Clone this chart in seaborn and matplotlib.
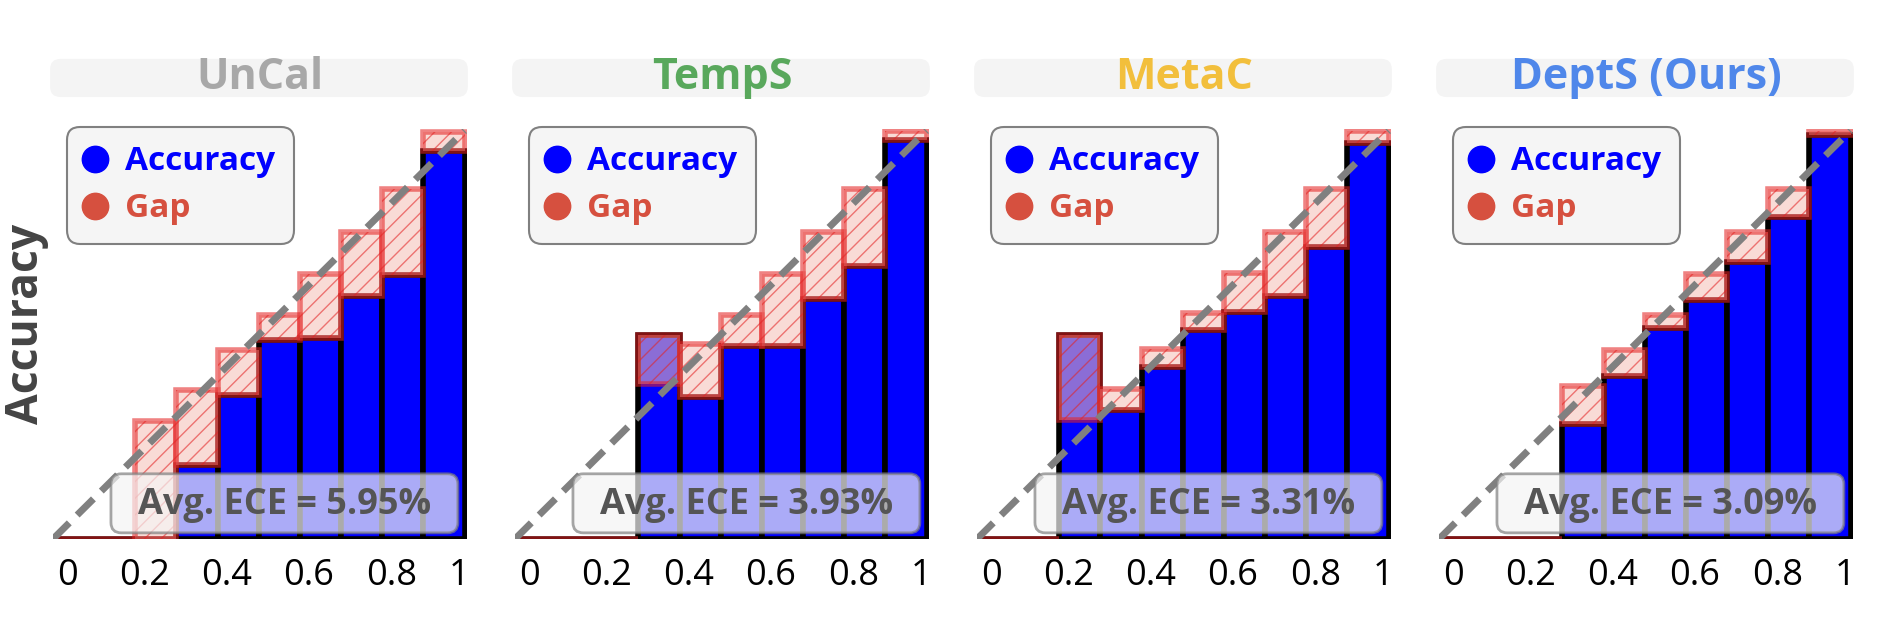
# reliability diagrams for four calibration methods

import pandas as pd
import seaborn as sns
import matplotlib.pyplot as plt
from matplotlib.lines import Line2D
from matplotlib.patches import FancyBboxPatch
from matplotlib.transforms import ScaledTranslation

# data
bin_mid = [0.05, 0.15, 0.25, 0.35, 0.45, 0.55, 0.65, 0.75, 0.85, 0.95]
diag = [0.0, 1.0]
tick_vals = [0.0, 0.2, 0.4, 0.6, 0.8, 1.0]
tick_labels = ['0', '0.2', '0.4', '0.6', '0.8', '1']

methods = ['UnCal', 'TempS', 'MetaC', 'DeptS (Ours)']
method_colors = ['#a8a8a8', '#59a85c', '#f2bf3c', '#4f87ea']
ece_text = ['Avg. ECE = 5.95%', 'Avg. ECE = 3.93%', 'Avg. ECE = 3.31%', 'Avg. ECE = 3.09%']

acc_uncal = [0, 0, 0, 0.182, 0.352, 0.488, 0.493, 0.596, 0.647, 0.951]
conf_uncal = [0, 0, 0.289, 0.366, 0.463, 0.549, 0.650, 0.752, 0.856, 0.996]

acc_temps = [0, 0, 0, 0.499, 0.348, 0.472, 0.472, 0.588, 0.668, 0.978]
conf_temps = [0, 0, 0, 0.380, 0.478, 0.549, 0.650, 0.751, 0.856, 1.0]

acc_metac = [0, 0, 0.499, 0.316, 0.421, 0.513, 0.557, 0.595, 0.716, 0.969]
conf_metac = [0, 0, 0.292, 0.368, 0.465, 0.554, 0.652, 0.753, 0.858, 0.998]

acc_depts = [0, 0, 0, 0.282, 0.398, 0.517, 0.586, 0.679, 0.789, 0.989]
conf_depts = [0, 0, 0, 0.374, 0.462, 0.549, 0.650, 0.751, 0.856, 0.998]

accs = [acc_uncal, acc_temps, acc_metac, acc_depts]
confs = [conf_uncal, conf_temps, conf_metac, conf_depts]

acc_color = '#0000ff'
gap_face = '#f5c1b8'
gap_edge = '#e42323'
gap_text = '#d6503f'

sns.set_style('white')
plt.rcParams['font.family'] = ['Open Sans', 'DejaVu Sans']

fig = plt.figure(figsize=(18.8, 6.29), dpi=100)
lefts = [53, 515, 977, 1439]
label_shift = [4, 9, 9, 9, 9, 5]  # px, tick labels sit a bit right of the ticks

for i, name in enumerate(methods):
    ax = fig.add_axes([lefts[i] / 1880, 90 / 629, 414 / 1880, 410 / 629])

    df = pd.DataFrame({'bin': bin_mid, 'acc': accs[i], 'conf': confs[i]})
    df['low'] = df[['acc', 'conf']].min(axis=1)
    df['gap'] = (df['conf'] - df['acc']).abs()

    sns.barplot(data=df, x='bin', y='acc', native_scale=True, width=1.0,
                color=acc_color, saturation=1, edgecolor='black', linewidth=4,
                errorbar=None, ax=ax, zorder=1)
    sns.barplot(data=df, x='bin', y='gap', bottom=df['low'].values,
                native_scale=True, width=1.0, color=gap_face, saturation=1,
                edgecolor=gap_edge, linewidth=4, hatch='//', alpha=0.57,
                errorbar=None, ax=ax, zorder=2)
    sns.lineplot(x=diag, y=diag, ax=ax, color='#808080', linewidth=5,
                 linestyle=(0, (3.3, 1.6)), zorder=3)

    ax.set_xlim(0, 1.006)
    ax.set_ylim(0, 1.004)
    ax.set_xlabel('')
    ax.set_ylabel('')
    ax.set_yticks([])
    ax.set_xticks(tick_vals)
    ax.set_xticklabels(tick_labels)
    ax.tick_params(axis='x', length=0, pad=14, labelsize=26, labelcolor='black')
    labs = ax.get_xticklabels()
    labs[0].set_ha('left')
    labs[-1].set_ha('right')
    for lab, dx in zip(labs, label_shift):
        lab.set_transform(lab.get_transform() + ScaledTranslation(dx / 100, 0, fig.dpi_scale_trans))
    sns.despine(ax=ax, left=True, bottom=True)

    # title with grey rounded band
    ax.add_patch(FancyBboxPatch((-0.007, 1.078), 1.009, 0.093,
                                boxstyle='round,pad=0,rounding_size=0.025',
                                transform=ax.transAxes, facecolor='#f4f4f4',
                                edgecolor='none', clip_on=False, zorder=0))
    ax.text(0.5, 1.097, name, transform=ax.transAxes, ha='center', va='baseline',
            fontsize=31, fontweight='bold', color=method_colors[i])

    # ECE box
    ax.add_patch(FancyBboxPatch((0.140, 0.015), 0.838, 0.144,
                                boxstyle='round,pad=0,rounding_size=0.025',
                                transform=ax.transAxes, facecolor='whitesmoke',
                                edgecolor='gray', alpha=0.7, linewidth=2,
                                clip_on=False, zorder=5))
    ax.text(0.560, 0.061, ece_text[i], transform=ax.transAxes, ha='center',
            va='baseline', fontsize=26, fontweight='bold', color='#555555', zorder=6)

    handles = [
        Line2D([], [], marker='o', linestyle='none', markersize=19,
               markerfacecolor=acc_color, markeredgecolor=acc_color),
        Line2D([], [], marker='o', linestyle='none', markersize=19,
               markerfacecolor=gap_text, markeredgecolor=gap_text),
    ]
    leg = ax.legend(handles, ['Accuracy', 'Gap'], loc='upper left',
                    bbox_to_anchor=(0.034, 1.005), borderaxespad=0,
                    prop={'weight': 'bold', 'size': 24}, frameon=True,
                    fancybox=True, facecolor='whitesmoke', edgecolor='gray',
                    framealpha=1, handlelength=0.6, handletextpad=0.6,
                    borderpad=0.55, labelspacing=0.42)
    leg.get_frame().set_linewidth(1.5)
    leg.get_frame().set_boxstyle('round,pad=0,rounding_size=0.4')
    leg.get_texts()[0].set_color(acc_color)
    leg.get_texts()[1].set_color(gap_text)
    leg.set_zorder(10)

    if i == 0:
        ax.set_ylabel('Accuracy', fontsize=32, fontweight='bold', color='#444444')
        ax.yaxis.set_label_coords(-0.01, 0.524)

fig.savefig('out.png', dpi=100)
